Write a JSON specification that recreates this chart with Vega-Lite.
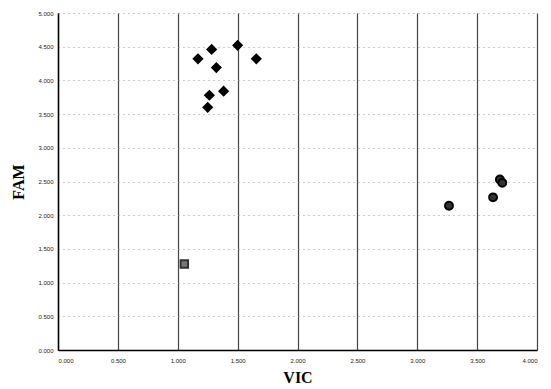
{
  "$schema": "https://vega.github.io/schema/vega-lite/v6.json",
  "autosize": "none",
  "width": 479,
  "height": 337,
  "padding": {"left": 58, "top": 13, "right": 14, "bottom": 39},
  "background": "white",
  "data": {
    "values": [
      {"VIC": 1.50, "FAM": 4.52, "group": "A"},
      {"VIC": 1.283, "FAM": 4.46, "group": "A"},
      {"VIC": 1.169, "FAM": 4.32, "group": "A"},
      {"VIC": 1.656, "FAM": 4.32, "group": "A"},
      {"VIC": 1.322, "FAM": 4.19, "group": "A"},
      {"VIC": 1.383, "FAM": 3.84, "group": "A"},
      {"VIC": 1.264, "FAM": 3.78, "group": "A"},
      {"VIC": 1.25, "FAM": 3.60, "group": "A"},
      {"VIC": 3.69, "FAM": 2.53, "group": "B"},
      {"VIC": 3.71, "FAM": 2.48, "group": "B"},
      {"VIC": 3.633, "FAM": 2.265, "group": "B"},
      {"VIC": 3.265, "FAM": 2.14, "group": "B"},
      {"VIC": 1.055, "FAM": 1.276, "group": "C"}
    ]
  },
  "config": {
    "view": {"stroke": null},
    "axis": {
      "labelFont": "Liberation Sans",
      "labelFontSize": 6,
      "labelColor": "#222",
      "titleFont": "Liberation Serif",
      "titleFontSize": 16,
      "titleFontWeight": "bold",
      "titleColor": "black",
      "domainColor": "black",
      "domainWidth": 1.5,
      "ticks": false
    }
  },
  "mark": {"type": "point", "filled": true, "opacity": 1},
  "encoding": {
    "x": {
      "field": "VIC",
      "type": "quantitative",
      "scale": {"domain": [0, 4], "nice": false, "zero": false},
      "axis": {
        "title": "VIC",
        "values": [0, 0.5, 1, 1.5, 2, 2.5, 3, 3.5, 4],
        "format": ".3f",
        "labelPadding": 7,
        "titlePadding": 6,
        "grid": true,
        "gridColor": "#444",
        "gridWidth": 1.2
      }
    },
    "y": {
      "field": "FAM",
      "type": "quantitative",
      "scale": {"domain": [0, 5], "nice": false, "zero": false},
      "axis": {
        "title": "FAM",
        "values": [0, 0.5, 1, 1.5, 2, 2.5, 3, 3.5, 4, 4.5, 5],
        "format": ".3f",
        "labelPadding": 5,
        "titlePadding": 11,
        "grid": true,
        "gridColor": "#999",
        "gridDash": [1, 4],
        "gridWidth": 1
      }
    },
    "shape": {
      "field": "group",
      "type": "nominal",
      "scale": {"domain": ["A", "B", "C"], "range": ["diamond", "circle", "square"]},
      "legend": null
    },
    "color": {
      "field": "group",
      "type": "nominal",
      "scale": {"domain": ["A", "B", "C"], "range": ["#000000", "#333333", "#777777"]},
      "legend": null
    },
    "stroke": {
      "field": "group",
      "type": "nominal",
      "scale": {"domain": ["A", "B", "C"], "range": ["#000000", "#000000", "#333333"]},
      "legend": null
    },
    "size": {
      "field": "group",
      "type": "nominal",
      "scale": {"domain": ["A", "B", "C"], "range": [70, 55, 55]},
      "legend": null
    }
  }
}
